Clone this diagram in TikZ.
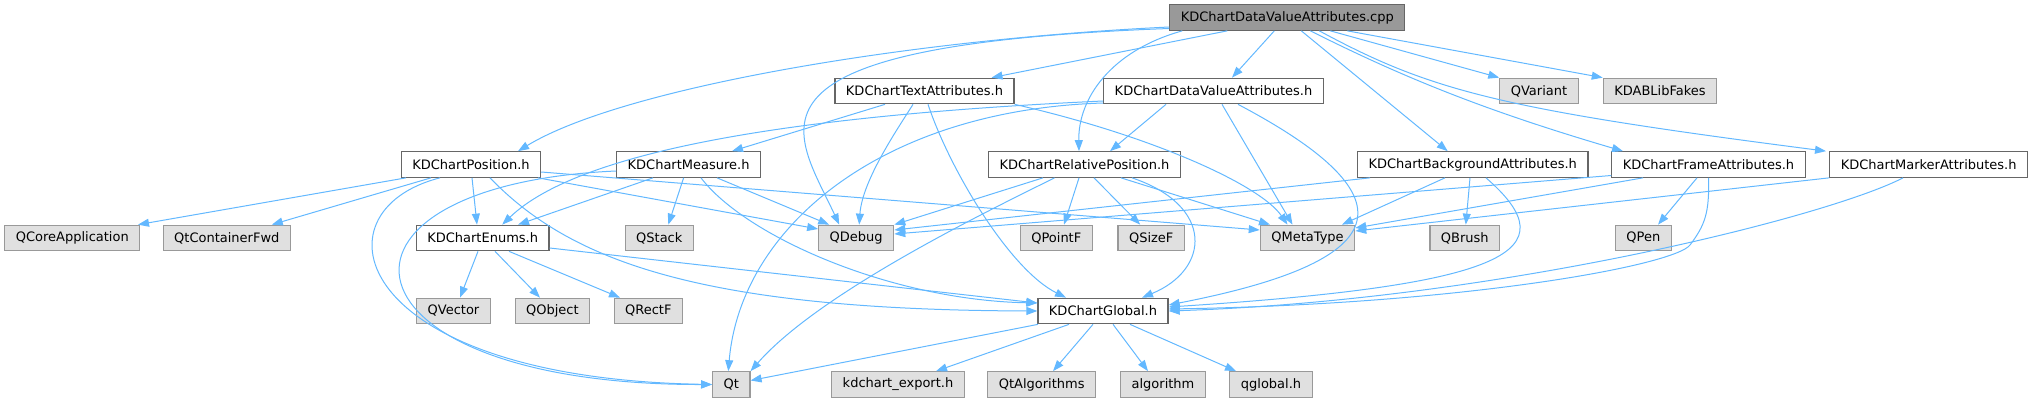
\documentclass[tikz,border=0pt]{standalone}
\usepackage{fontspec}
\setmainfont{DejaVu Sans}
\usepackage{tikz}
\usetikzlibrary{positioning,arrows.meta}
\definecolor{docborder}{HTML}{666666}
\definecolor{extborder}{HTML}{999999}
\definecolor{extfill}{HTML}{E0E0E0}
\definecolor{rootfill}{HTML}{999999}
\definecolor{incl}{HTML}{63B8FF}
\tikzset{
file/.style={draw=docborder, fill=white, line width=1.2pt, minimum height=25.5pt, inner xsep=11pt, inner ysep=0pt, font=\fontsize{13}{15}\selectfont}, % documented header
ext/.style={file, draw=extborder, fill=extfill}, % header without docs
root/.style={file, fill=rootfill}, % the file itself
%>=stealth, % plain tips
}
\tikzset{
    dep/.style={->, incl, line width=1pt}
}

\begin{document}
\begin{tikzpicture}[x=1pt, y=-1pt, node distance=73.5pt, on grid, >={Triangle[length=11pt,width=8pt]}]
        \useasboundingbox (0,0) rectangle (2033,403);
        \node[root] (cpp) at (1287.3,17.5) {KDChartDataValueAttributes.cpp};
        \node[file] (textattr) [below left=73.5pt and 362.8pt of cpp] {KDChartTextAttributes.h};
        \node[file] (dva) [right=289pt of textattr] {KDChartDataValueAttributes.h};
        \node[ext] (qvariant) [right=325.5pt of dva] {QVariant};
        \node[ext] (kdab) [right=121pt of qvariant] {KDABLibFakes};
        \node[file] (position) [below left=73.5pt and 453.5pt of textattr] {KDChartPosition.h};
        \node[file] (measure) [right=217.6pt of position] {KDChartMeasure.h};
        \node[file] (relpos) [right=395.9pt of measure] {KDChartRelativePosition.h};
        \node[file] (bgattr) [right=388.2pt of relpos] {KDChartBackgroundAttributes.h};
        \node[file] (frameattr) [right=235.8pt of bgattr] {KDChartFrameAttributes.h};
        \node[file] (markerattr) [right=220.2pt of frameattr] {KDChartMarkerAttributes.h};
        \node[file] (enums) [below right=73.5pt and 11.7pt of position] {KDChartEnums.h};
        \node[ext] (qtcontfwd) [left=255.9pt of enums] {QtContainerFwd};
        \node[ext] (qcoreapp) [left=154.5pt of qtcontfwd] {QCoreApplication};
        \node[ext] (qstack) [right=176.6pt of enums] {QStack};
        \node[ext] (qdebug) [right=196.9pt of qstack] {QDebug};
        \node[ext] (qpointf) [right=200.1pt of qdebug] {QPointF};
        \node[ext] (qsizef) [right=94.9pt of qpointf] {QSizeF};
        \node[ext] (qmetatype) [right=156.3pt of qsizef] {QMetaType};
        \node[ext] (qbrush) [right=157.3pt of qmetatype] {QBrush};
        \node[ext] (qpen) [right=178.5pt of qbrush] {QPen};
        \node[ext] (qvector) [below left=73pt and 29.2pt of enums] {QVector};
        \node[ext] (qobject) [right=98.9pt of qvector] {QObject};
        \node[ext] (qrectf) [right=95.9pt of qobject] {QRectF};
        \node[file] (global) [right=454.7pt of qrectf] {KDChartGlobal.h};
        \node[ext] (qt) [below left=73.5pt and 371.7pt of global] {Qt};
        \node[ext] (kdexport) [right=166.7pt of qt] {kdchart\_export.h};
        \node[ext] (qtalgo) [right=143.7pt of kdexport] {QtAlgorithms};
        \node[ext] (algorithm) [right=121.3pt of qtalgo] {algorithm};
        \node[ext] (qglobal) [right=108pt of algorithm] {qglobal.h};
        % straight includes
        \path[dep]
        ([xshift=-60pt]cpp.south) edge ([xshift=67pt]textattr.north)
        ([xshift=-13pt]cpp.south) edge ([xshift=18.5pt]dva.north)
        ([xshift=43pt]cpp.south) edge (qvariant.north west)
        ([xshift=60pt]cpp.south) edge (kdab.north west)
        ([xshift=14pt]cpp.south) edge ([xshift=-25pt]bgattr.north)
        ([xshift=-39.5pt]textattr.south) edge ([xshift=43.4pt]measure.north)
        ([xshift=-47.5pt]dva.south) edge ([xshift=25.5pt]relpos.north)
        ([xshift=8.5pt]dva.south) edge ([xshift=-15pt]qmetatype.north)
        ([xshift=-41.5pt]relpos.south) edge (qdebug.north east)
        ([xshift=-5.5pt]relpos.south) edge ([xshift=7.7pt]qpointf.north)
        ([xshift=9.5pt]relpos.south) edge ([xshift=-11pt]qsizef.north)
        ([xshift=36.5pt]relpos.south) edge ([xshift=-37.5pt]qmetatype.north)
        ([xshift=-65pt]position.south) edge ([xshift=65.7pt]qcoreapp.north)
        ([xshift=-40pt]position.south) edge ([xshift=45pt]qtcontfwd.north)
        ([xshift=1pt]position.south) edge ([xshift=-5.7pt]enums.north)
        ([xshift=67pt]position.south) edge ([yshift=9pt]qdebug.west)
        ([yshift=-7.5pt]position.east) edge ([yshift=8pt]qmetatype.west)
        ([xshift=-35.6pt]measure.south) edge ([xshift=35.3pt]enums.north)
        ([xshift=-5pt]measure.south) edge ([xshift=9pt]qstack.north)
        ([xshift=28.4pt]measure.south) edge ([xshift=-27pt]qdebug.north)
        ([xshift=-4.7pt]enums.south) edge ([xshift=6.5pt]qvector.north)
        ([xshift=12.3pt]enums.south) edge ([xshift=-12.4pt]qobject.north)
        ([xshift=26.3pt]enums.south) edge ([xshift=-28.3pt]qrectf.north)
        ([yshift=-10pt]enums.east) edge ([yshift=8pt]global.west)
        ([xshift=-102.7pt]bgattr.south) edge ([yshift=8pt]qdebug.east)
        ([xshift=-27.7pt]bgattr.south) edge ([xshift=34.5pt]qmetatype.north)
        ([xshift=-2.7pt]bgattr.south) edge ([xshift=1pt]qbrush.north)
        ([yshift=-11pt]frameattr.west) edge ([yshift=4pt]qdebug.east)
        ([xshift=-65.5pt]frameattr.south) edge ([yshift=10pt]qmetatype.east)
        ([xshift=-11.5pt]frameattr.south) edge ([xshift=14.7pt]qpen.north)
        (markerattr.south west) edge ([yshift=7pt]qmetatype.east)
        ([xshift=-65pt]global.south) edge ([yshift=4pt]qt.east)
        ([xshift=-34pt]global.south) edge ([xshift=38pt]kdexport.north)
        ([xshift=-10pt]global.south) edge ([xshift=11.3pt]qtalgo.north)
        ([xshift=10pt]global.south) edge ([xshift=-15pt]algorithm.north)
        ([xshift=27pt]global.south) edge ([xshift=-35pt]qglobal.north);
        % curved includes
        \draw[dep] ([yshift=-9.5pt]cpp.west) .. controls +(-270,13) and +(102,-62) .. ([xshift=47pt]position.north);
        \draw[dep] ([yshift=-11pt]cpp.west) .. controls +(-450,16.5) and +(-44,-95) .. ([xshift=-17pt]qdebug.north);
        \draw[dep] ([xshift=-105pt]cpp.south) .. controls +(-72,20) and +(-1,-52) .. ([xshift=-5.5pt]relpos.north);
        \draw[dep] ([xshift=23pt]cpp.south) .. controls +(90,45) and +(-143,-42) .. ([xshift=-85.5pt]frameattr.north);
        \draw[dep] ([xshift=32pt]cpp.south) .. controls +(111,60) and +(-326,-42) .. ([xshift=-102.7pt]markerattr.north);
        \draw[dep] ([xshift=-11.5pt]textattr.south) .. controls +(-13,21) and +(3,-45) .. ([xshift=3pt]qdebug.north);
        \draw[dep] ([xshift=3.5pt]textattr.south) .. controls +(22,66) and +(-56,-28) .. ([xshift=-37pt]global.north);
        \draw[dep] (textattr.south east) .. controls +(136,31) and +(-27.5,-40) .. ([xshift=-20pt]qmetatype.north);
        \draw[dep] ([yshift=-10pt]dva.west) .. controls +(-304,14) and +(78,-75) .. ([xshift=19.5pt]enums.north);
        \draw[dep] ([yshift=-12pt]dva.west) .. controls +(-224,7) and +(12,-142) .. ([xshift=-3pt]qt.north);
        \draw[dep] ([xshift=24.5pt]dva.south) .. controls +(182,96) and +(221.5,-43) .. ([yshift=6pt]global.east);
        \draw[dep] ([xshift=-30pt]relpos.south) .. controls +(-60,30) and +(70,-80) .. (qt.north east);
        \draw[dep] ([xshift=47.5pt]relpos.south) .. controls +(83,28) and +(68,-28) .. ([xshift=39pt]global.north);
        \draw[dep] ([xshift=-31pt]position.south) .. controls +(-130,33) and +(-361.6,-6.5) .. (qt.west);
        \draw[dep] ([xshift=19pt]position.south) .. controls +(80,83) and +(-337.5,-1) .. (global.west);
        \draw[dep] ([xshift=12.4pt]measure.south) .. controls +(44,58) and +(-147.5,-3) .. ([yshift=8pt]global.west);
        \draw[dep] ([yshift=-6.5pt]measure.west) .. controls +(-316.6,14) and +(-381.6,0.5) .. (qt.west);
        \draw[dep] ([xshift=13.3pt]bgattr.south) .. controls +(84,73) and +(341.5,-22) .. ([yshift=4pt]global.east);
        \draw[dep] (frameattr.south) .. controls +(1,35) and +(15,-20) .. (1690,245) .. controls +(-15,20) and +(300,-5) .. ([yshift=2pt]global.east);
        \draw[dep] ([xshift=-25.7pt]markerattr.south) .. controls +(-73,38) and +(331.5,-11) .. (global.east);
\end{tikzpicture}
\end{document}
